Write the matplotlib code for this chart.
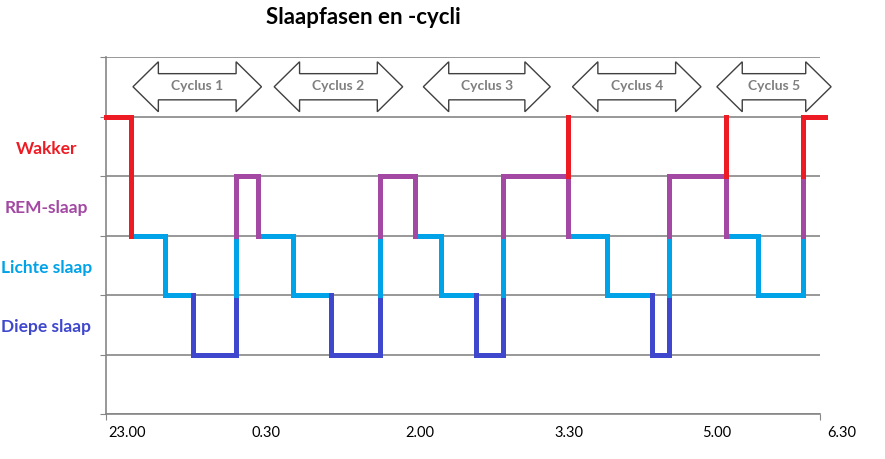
import matplotlib.pyplot as plt
from matplotlib.patches import Polygon
from matplotlib.transforms import blended_transform_factory

# minutes after 23.00, stage level (5 wake, 4 REM, 3/2 light, 1 deep)
times = [0, 16, 37, 55, 82, 96, 118, 142, 173, 195, 211, 233, 250, 291, 291,
         316, 344, 355, 391, 391, 411, 439, 453]
levels = [5, 3, 2, 1, 4, 3, 2, 1, 4, 3, 2, 1, 4, 5, 3, 2, 1, 4, 5, 3, 2, 5, 5]

stage_names = ['Diepe slaap', 'Lichte slaap', 'REM-slaap', 'Wakker']
stage_pos = [1.5, 2.5, 3.5, 4.5]

time_labels = ['23.00', '0.30', '2.00', '3.30', '5.00', '6.30']
time_label_pos = [13, 101, 198, 292, 385, 464]

cycle_names = ['Cyclus 1', 'Cyclus 2', 'Cyclus 3', 'Cyclus 4', 'Cyclus 5']
cycle_start = [17, 106, 200, 294, 385]
cycle_end = [98, 187, 280, 375, 457]

RED = '#ED1C24'
PURPLE = '#A349A4'
LIGHT = '#00A2E8'
DEEP = '#3F48CC'
level_col = {5: RED, 4: PURPLE, 3: LIGHT, 2: LIGHT, 1: DEEP}
band_col = {4: RED, 3: PURPLE, 2: LIGHT, 1: DEEP}
label_col = [DEEP, LIGHT, PURPLE, RED]
GRID = '#868686'

fig = plt.figure(figsize=(8.85, 4.6), dpi=100)
ax = fig.add_axes([106/885, 45/460, 714/885, 357/460])

lw = 3.6
for i in range(len(times) - 1):
    # horizontal part
    ax.plot([times[i], times[i+1]], [levels[i], levels[i]], color=level_col[levels[i]],
            lw=lw, solid_capstyle='projecting', clip_on=False, zorder=3)
for i in range(1, len(times)):
    a, b = levels[i-1], levels[i]
    lo, hi = min(a, b), max(a, b)
    for k in range(lo, hi):
        c = RED if i == 1 else band_col[k]   # falling asleep: all red
        ax.plot([times[i], times[i]], [k, k+1], color=c, lw=lw,
                solid_capstyle='projecting', clip_on=False, zorder=3)

# cycle arrows
yc, H, S, hl = 5.5, 0.42, 0.22, 16
for name, x0, x1 in zip(cycle_names, cycle_start, cycle_end):
    pts = [(x0, yc), (x0+hl, yc+H), (x0+hl, yc+S), (x1-hl, yc+S), (x1-hl, yc+H),
           (x1, yc), (x1-hl, yc-H), (x1-hl, yc-S), (x0+hl, yc-S), (x0+hl, yc-H)]
    ax.add_patch(Polygon(pts, closed=True, facecolor='white', edgecolor='#404040',
                         lw=1.0, clip_on=False, zorder=4))
    ax.text((x0+x1)/2, yc+0.03, name, ha='center', va='center', color='#7f7f7f',
            fontsize=10, fontweight='bold', family='Lato', zorder=5)

# axes styling
for s in ['top', 'right']:
    ax.spines[s].set_visible(False)
for s in ['left', 'bottom']:
    ax.spines[s].set_color(GRID)
    ax.spines[s].set_linewidth(1.2)
ax.set_yticks(range(7))
ax.set_yticklabels([])
ax.grid(axis='y', color=GRID, lw=1.2)
ax.set_axisbelow(True)
ax.set_yticks(stage_pos, labels=stage_names, minor=True)
ax.tick_params(axis='y', which='major', direction='out', length=4, color=GRID)
ax.tick_params(axis='y', which='minor', length=0, pad=43)
for lbl, c in zip(ax.get_yticklabels(minor=True), label_col):
    lbl.set_color(c)
    lbl.set_ha('center')
    lbl.set_fontweight('bold')
    lbl.set_family('Lato')
    lbl.set_fontsize(12.5)

ax.set_xticks([0, 450])
ax.set_xticklabels([])
ax.tick_params(axis='x', which='major', direction='out', length=4, color=GRID)
trans = blended_transform_factory(ax.transData, ax.transAxes)
for lab, x in zip(time_labels, time_label_pos):
    ax.text(x, -0.05, lab, transform=trans, ha='center', va='center',
            fontsize=10.5, family='Lato', clip_on=False)

ax.set_xlim(0, 450)
ax.set_ylim(0, 6)

fig.text(363/885, 1 - 17/460, 'Slaapfasen en -cycli', ha='center', va='center',
         fontsize=16, fontweight='bold', family='Lato')

fig.savefig('out.png', dpi=100)
